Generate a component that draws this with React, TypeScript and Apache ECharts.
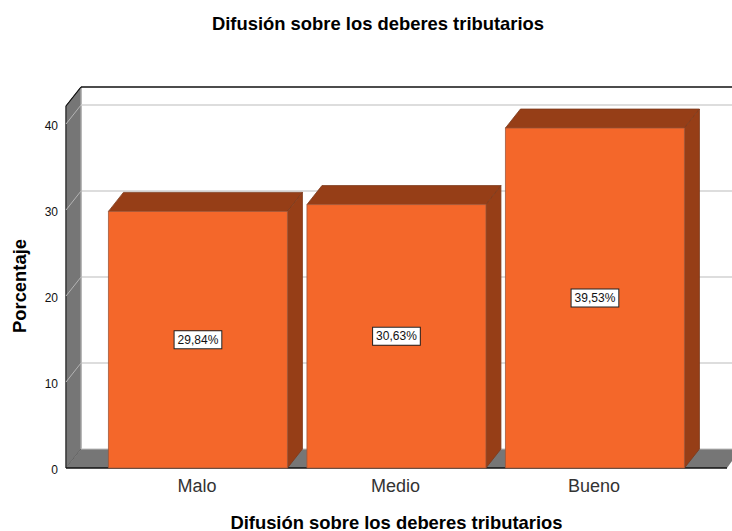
import React, { useEffect, useRef } from "react";
import * as echarts from "echarts";

const chartTitle = "Difusión sobre los deberes tributarios";
const xAxisTitle = "Difusión sobre los deberes tributarios";
const yAxisTitle = "Porcentaje";
const categories = ["Malo", "Medio", "Bueno"];
const percentages = [29.84, 30.63, 39.53];
const gridTicks = [10, 20, 30, 40];

const DX = 15;
const DY = -19;
const BAR_WIDTH = 179;
const WALL_LEFT = 66;
const WALL_TOP_BACK = 87;
const PLOT_RIGHT = 732;
const FRONT_RIGHT = 727;
const FONT = '"Liberation Sans", Arial, sans-serif';

const FRONT = "#f4672a";
const SHADE = "#963e17";
const WALL = "#767676";

function renderWall(_: any, api: any) {
  const y0 = api.coord([0, 0])[1];
  const backX = WALL_LEFT + DX;
  const backY0 = y0 + DY;
  return {
    type: "group",
    children: [
      { type: "rect", shape: { x: backX, y: WALL_TOP_BACK, width: PLOT_RIGHT - backX, height: backY0 - WALL_TOP_BACK }, style: { fill: "#ffffff" } },
      {
        type: "polygon",
        shape: { points: [[WALL_LEFT, y0], [backX, backY0], [backX, WALL_TOP_BACK], [WALL_LEFT, WALL_TOP_BACK - DY]] },
        style: { fill: WALL, stroke: "#555555", lineWidth: 1 },
      },
      {
        type: "polygon",
        shape: { points: [[WALL_LEFT, y0], [backX, backY0], [PLOT_RIGHT, backY0], [PLOT_RIGHT, y0 - 7], [FRONT_RIGHT, y0]] },
        style: { fill: WALL },
      },
      { type: "line", shape: { x1: backX, y1: backY0, x2: PLOT_RIGHT, y2: backY0 }, style: { stroke: "#bcbcbc", lineWidth: 1 } },
      { type: "line", shape: { x1: backX, y1: WALL_TOP_BACK, x2: backX, y2: backY0 }, style: { stroke: "#c8c8c8", lineWidth: 1 } },
      { type: "line", shape: { x1: backX, y1: WALL_TOP_BACK, x2: PLOT_RIGHT, y2: WALL_TOP_BACK }, style: { stroke: "#111111", lineWidth: 1.5 } },
      { type: "line", shape: { x1: WALL_LEFT, y1: WALL_TOP_BACK - DY, x2: backX, y2: WALL_TOP_BACK }, style: { stroke: "#111111", lineWidth: 1.2 } },
      { type: "line", shape: { x1: WALL_LEFT, y1: WALL_TOP_BACK - DY, x2: WALL_LEFT, y2: y0 }, style: { stroke: "#333333", lineWidth: 1.2 } },
      { type: "line", shape: { x1: WALL_LEFT, y1: y0, x2: FRONT_RIGHT, y2: y0 }, style: { stroke: "#111111", lineWidth: 1.5 } },
    ],
  };
}

function renderGridLine(_: any, api: any) {
  const y = api.coord([0, api.value(0)])[1];
  const top = api.value(0) === 40;
  return {
    type: "group",
    children: [
      { type: "line", shape: { x1: WALL_LEFT + DX, y1: y + DY, x2: PLOT_RIGHT, y2: y + DY }, style: { stroke: top ? "#d2d2d2" : "#bcbcbc", lineWidth: top ? 1.6 : 1.2 } },
      { type: "line", shape: { x1: WALL_LEFT, y1: y, x2: WALL_LEFT + DX, y2: y + DY }, style: { stroke: "#b4b4b4", lineWidth: 1 } },
    ],
  };
}

function renderBar(_: any, api: any) {
  const [cx, y] = api.coord([api.value(0), api.value(1)]);
  const y0 = api.coord([api.value(0), 0])[1];
  const l = cx - BAR_WIDTH / 2;
  const r = cx + BAR_WIDTH / 2;
  const edge = { stroke: "#7c3a1c", lineWidth: 0.8 };
  return {
    type: "group",
    children: [
      { type: "polygon", shape: { points: [[l, y], [l + DX, y + DY], [r + DX, y + DY], [r, y]] }, style: { fill: SHADE, ...edge } },
      { type: "polygon", shape: { points: [[r, y], [r + DX, y + DY], [r + DX, y0 + DY], [r, y0]] }, style: { fill: SHADE, ...edge } },
      { type: "rect", shape: { x: l, y, width: BAR_WIDTH, height: y0 - y }, style: { fill: FRONT, stroke: "#a0583a", lineWidth: 0.8 } },
      {
        type: "text",
        x: cx,
        y: (y + y0) / 2,
        style: {
          text: api.value(1).toFixed(2).replace(".", ",") + "%",
          align: "center",
          verticalAlign: "middle",
          font: `12px ${FONT}`,
          fill: "#111111",
          backgroundColor: "#ffffff",
          borderColor: "#222222",
          borderWidth: 1,
          padding: [3, 3, 2, 3],
        },
      },
    ],
  };
}

export default function App() {
  const ref = useRef<HTMLDivElement>(null);
  useEffect(() => {
    document.body.style.margin = "0";
    const chart = echarts.init(ref.current!, undefined, { renderer: "svg" });
    chart.setOption({
      animation: false,
      backgroundColor: "#ffffff",
      title: {
        text: chartTitle,
        left: 373,
        top: 9,
        textAlign: "center",
        textStyle: { fontFamily: FONT, fontSize: 18.4, fontWeight: "bold", color: "#000000" },
      },
      grid: { left: 98.7, top: 124, width: 595.5, height: 344, outerBoundsMode: "none" },
      xAxis: {
        type: "category",
        data: categories,
        axisLine: { show: false },
        axisTick: { show: false },
        axisLabel: { fontFamily: FONT, fontSize: 18, color: "#333333", margin: 9, padding: [0, 2, 0, 0] },
        name: xAxisTitle,
        nameLocation: "middle",
        nameGap: 45,
        nameTextStyle: { fontFamily: FONT, fontSize: 18.4, fontWeight: "bold", color: "#000000" },
      },
      yAxis: {
        type: "value",
        min: 0,
        max: 40,
        interval: 10,
        offset: 32.7,
        axisLine: { show: false },
        axisTick: { show: false },
        splitLine: { show: false },
        axisLabel: { fontFamily: FONT, fontSize: 12, color: "#111111", margin: 8, verticalAlign: "top", lineHeight: 4 },
        name: yAxisTitle,
        nameLocation: "middle",
        nameGap: 38,
        nameRotate: 90,
        nameTextStyle: { fontFamily: FONT, fontSize: 18.4, fontWeight: "bold", color: "#000000", padding: [0, 0, 0, 20] },
      },
      series: [
        { type: "custom", silent: true, clip: false, data: [[0]], renderItem: renderWall, z: 1 },
        { type: "custom", silent: true, clip: false, data: gridTicks.map((t) => [t]), renderItem: renderGridLine, z: 2, encode: { x: -1, y: 0 } },
        {
          type: "custom",
          silent: true,
          clip: false,
          data: percentages.map((v, i) => [i, v]),
          renderItem: renderBar,
          z: 3,
          encode: { x: 0, y: 1 },
        },
      ],
    });
    return () => chart.dispose();
  }, []);
  return <div ref={ref} style={{ position: "fixed", left: 0, top: 0, width: 732, height: 531 }} />;
}
